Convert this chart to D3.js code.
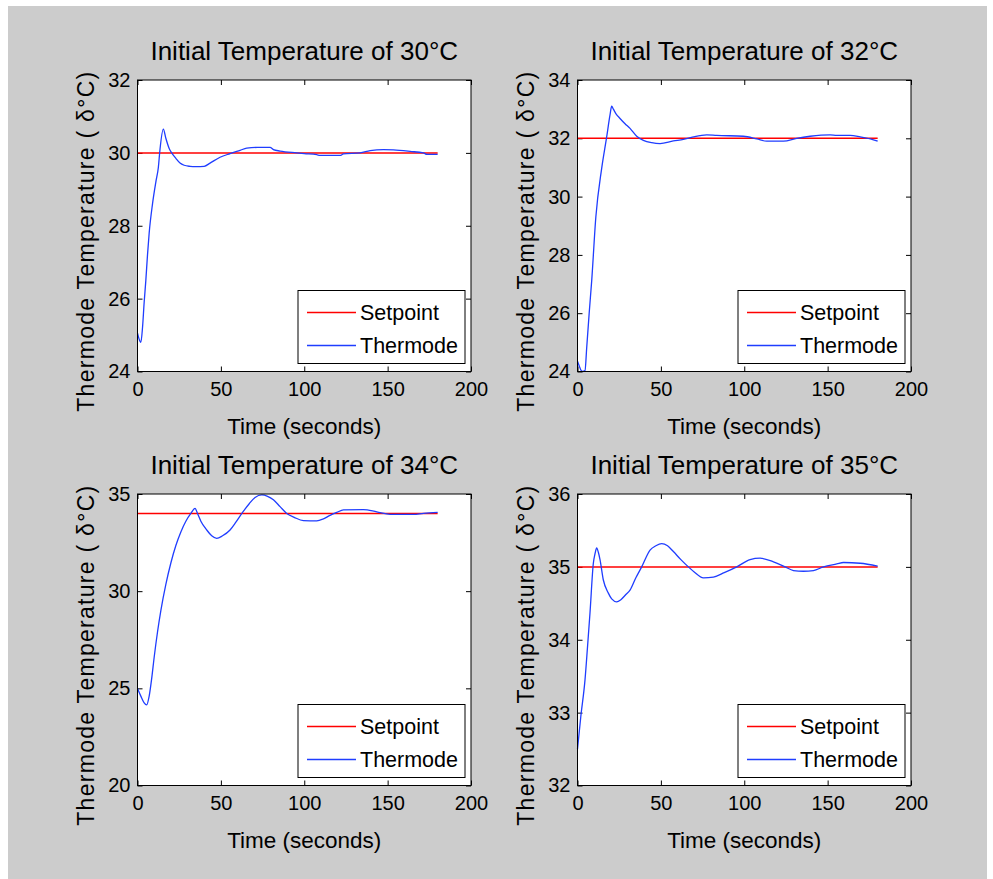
<!DOCTYPE html>
<html>
<head>
<meta charset="utf-8">
<script src="https://cdn.jsdelivr.net/npm/d3@7"></script>
<style>
  body { margin: 0; background: #fff; }
  svg text { font-family: "Liberation Sans", Arial, Helvetica, sans-serif; fill: #000; }
</style>
</head>
<body>
<svg id="chart" width="993" height="879"></svg>
<script>

// ---- data ----
const xTicks = [0, 50, 100, 150, 200];

const setpoints = [30, 32, 34, 35];
const setpointTime = [0, 180];

const yTicks30 = [24, 26, 28, 30, 32];
const yTicks32 = [24, 26, 28, 30, 32, 34];
const yTicks34 = [20, 25, 30, 35];
const yTicks35 = [32, 33, 34, 35, 36];

const time30 = [0, 2, 3, 4, 5, 6, 7, 9, 11, 12.5, 13.5, 15.5, 17, 19, 20.5, 23, 25.5, 28, 31.5, 35, 40, 43.5, 49.5, 55.5, 61.5, 65.5, 72, 79.5, 81.5, 85.5, 95.5, 100, 107.5, 109.5, 115, 121.5, 123.5, 133.5, 139.5, 147.5, 153.5, 163.5, 171.5, 173.5, 180];
const temp30 = [25.05, 24.8, 25.2, 25.9, 26.5, 27.2, 27.8, 28.6, 29.2, 29.6, 30.1, 30.65, 30.4, 30.12, 30.0, 29.85, 29.72, 29.66, 29.63, 29.62, 29.63, 29.72, 29.88, 29.98, 30.07, 30.13, 30.15, 30.15, 30.09, 30.05, 30.0, 29.98, 29.95, 29.93, 29.93, 29.93, 29.97, 30.0, 30.06, 30.09, 30.08, 30.04, 30.0, 29.96, 29.96];

const time32 = [0, 1, 2, 3, 4.5, 5.5, 7, 8.5, 11, 14.5, 17.5, 19.5, 20.5, 21.5, 23, 25.5, 28.5, 31.5, 35.5, 39.5, 44.5, 49.5, 57.5, 63.5, 69.5, 77.5, 83.5, 99.5, 107.5, 113.5, 123.5, 131.5, 139.5, 151.5, 155.5, 163.5, 169.5, 177.5, 180];
const temp32 = [24.35, 24.2, 24.05, 24.0, 24.03, 24.8, 26.0, 27.1, 29.3, 30.97, 32.05, 32.8, 33.1, 33.0, 32.85, 32.68, 32.5, 32.34, 32.07, 31.93, 31.85, 31.82, 31.91, 31.96, 32.05, 32.12, 32.1, 32.07, 31.98, 31.9, 31.9, 32.0, 32.07, 32.12, 32.1, 32.1, 32.05, 31.95, 31.9];

const time34 = [0, 2, 4, 5.5, 7, 8.5, 10, 12, 14, 17, 20, 23, 26, 29, 32, 34.5, 36, 38, 41.5, 44.5, 47.5, 51, 55.5, 59, 63, 67, 70.5, 74.5, 78, 81.5, 85.5, 89.5, 94, 99.5, 107.5, 111.5, 115.5, 119.5, 123.5, 135.5, 143.5, 151.5, 165.5, 171.5, 180];
const temp34 = [25.0, 24.6, 24.25, 24.15, 24.6, 25.5, 26.6, 27.9, 29.0, 30.35, 31.45, 32.35, 33.05, 33.6, 34.0, 34.26, 34.0, 33.6, 33.15, 32.85, 32.72, 32.85, 33.15, 33.55, 34.05, 34.5, 34.82, 34.95, 34.88, 34.7, 34.35, 34.0, 33.8, 33.63, 33.62, 33.72, 33.9, 34.05, 34.18, 34.2, 34.08, 33.95, 33.95, 34.0, 34.05];

const time35 = [0, 2, 4.5, 6, 7.5, 9.5, 10.5, 11.5, 12.5, 13.5, 15.5, 18.5, 20.5, 23.5, 26, 29, 31.5, 35, 38.5, 43.5, 47, 50.5, 54, 57.5, 62, 66.5, 70, 75.5, 81.5, 88, 95.5, 103.5, 109.5, 117.5, 124.5, 129.5, 135.5, 141.5, 147.5, 155.5, 159.5, 169.5, 180];
const temp35 = [32.5, 32.95, 33.45, 33.9, 34.37, 35.05, 35.18, 35.26, 35.2, 35.1, 34.82, 34.64, 34.56, 34.52, 34.55, 34.62, 34.68, 34.85, 35.0, 35.23, 35.29, 35.32, 35.29, 35.21, 35.1, 35.0, 34.93, 34.85, 34.86, 34.92, 35.0, 35.1, 35.12, 35.07, 35.0, 34.95, 34.94, 34.95, 35.0, 35.04, 35.06, 35.05, 35.01];

const titles = ["Initial Temperature of 30°C", "Initial Temperature of 32°C",
                "Initial Temperature of 34°C", "Initial Temperature of 35°C"];
const legendLabels = ["Setpoint", "Thermode"];

// ---- layout ----
const plot_w = 333.5, plot_h = 291.5;
const panels = [
    {left: 137.5, top: 80,  yDomain: [24, 32], yTicks: yTicks30, time: time30, temp: temp30},
    {left: 577.5, top: 80,  yDomain: [24, 34], yTicks: yTicks32, time: time32, temp: temp32},
    {left: 137.5, top: 494, yDomain: [20, 35], yTicks: yTicks34, time: time34, temp: temp34},
    {left: 577.5, top: 494, yDomain: [32, 36], yTicks: yTicks35, time: time35, temp: temp35}
];

const svg = d3.select("#chart");

// grey figure background
svg.append("rect")
    .attr("x", 8).attr("y", 6)
    .attr("width", 979).attr("height", 873)
    .attr("fill", "#cccccc");

function drawPanel(p, i) {
    var g = svg.append("g")
        .attr("transform", "translate(" + p.left + "," + p.top + ")");

    var x = d3.scaleLinear().domain([0, 200]).range([0, plot_w]);
    var y = d3.scaleLinear().domain(p.yDomain).range([plot_h, 0]);

    g.append("rect")
        .attr("width", plot_w).attr("height", plot_h)
        .attr("fill", "#fff");

    //bottom + left axes with labels, ticks pointing inward
    var xAxis = g.append("g")
        .attr("transform", "translate(0," + plot_h + ")")
        .call(d3.axisBottom(x).tickValues(xTicks).tickSizeInner(-5).tickSizeOuter(0).tickPadding(10).tickFormat(d3.format("d")));
    var yAxis = g.append("g")
        .call(d3.axisLeft(y).tickValues(p.yTicks).tickSizeInner(-5).tickSizeOuter(0).tickPadding(7).tickFormat(d3.format("d")));

    //top + right axes, ticks only
    var xTop = g.append("g")
        .call(d3.axisTop(x).tickValues(xTicks).tickSizeInner(-5).tickSizeOuter(0).tickFormat(""));
    var yRight = g.append("g")
        .attr("transform", "translate(" + plot_w + ",0)")
        .call(d3.axisRight(y).tickValues(p.yTicks).tickSizeInner(-5).tickSizeOuter(0).tickFormat(""));

    [xAxis, yAxis, xTop, yRight].forEach(function (a) {
        a.select(".domain").remove();
        a.selectAll("line").attr("stroke", "#000");
        a.selectAll("text").style("font-size", "20px").attr("fill", "#000");
    });

    // setpoint line
    g.append("path")
        .datum(setpointTime.map(function (t) { return [t, setpoints[i]]; }))
        .attr("fill", "none")
        .attr("stroke", "#ff0000")
        .attr("stroke-width", 1.5)
        .attr("d", d3.line().x(function (d) { return x(d[0]); }).y(function (d) { return y(d[1]); }));

    // thermode line
    g.append("path")
        .datum(p.time.map(function (t, k) { return [t, p.temp[k]]; }))
        .attr("fill", "none")
        .attr("stroke", "#1f3dff")
        .attr("stroke-width", 1.3)
        .attr("d", d3.line().curve(d3.curveMonotoneX).x(function (d) { return x(d[0]); }).y(function (d) { return y(d[1]); }));

    // frame
    g.append("rect")
        .attr("width", plot_w).attr("height", plot_h)
        .attr("fill", "none").attr("stroke", "#000").attr("stroke-width", 1);

    // title
    g.append("text")
        .attr("x", plot_w / 2).attr("y", -20)
        .attr("text-anchor", "middle")
        .style("font-size", "26px")
        .text(titles[i]);

    // axis labels
    g.append("text")
        .attr("x", plot_w / 2).attr("y", plot_h + 62)
        .attr("text-anchor", "middle")
        .style("font-size", "22.5px")
        .text("Time (seconds)");

    g.append("text")
        .attr("transform", "translate(-44," + (plot_h / 2 + 16) + ") rotate(-90)")
        .attr("text-anchor", "middle")
        .attr("textLength", 340)
        .attr("lengthAdjust", "spacing")
        .style("font-size", "23px")
        .text("Thermode Temperature ( δ°C)");

    // legend
    var lw = 167, lh = 73;
    var legend = g.append("g")
        .attr("transform", "translate(" + (plot_w - 6 - lw) + "," + (plot_h - 8 - lh) + ")");
    legend.append("rect")
        .attr("width", lw).attr("height", lh)
        .attr("fill", "#fff").attr("stroke", "#000");

    var colors = ["#ff0000", "#1f3dff"];
    legendLabels.forEach(function (lab, k) {
        var ly = 22 + k * 33;
        legend.append("line")
            .attr("x1", 9).attr("x2", 58)
            .attr("y1", ly).attr("y2", ly)
            .attr("stroke", colors[k]).attr("stroke-width", k === 0 ? 1.5 : 1.3);
        legend.append("text")
            .attr("x", 62).attr("y", ly)
            .attr("dy", "0.35em")
            .style("font-size", "21.5px")
            .text(lab);
    });
}

panels.forEach(drawPanel);

</script>
</body>
</html>
